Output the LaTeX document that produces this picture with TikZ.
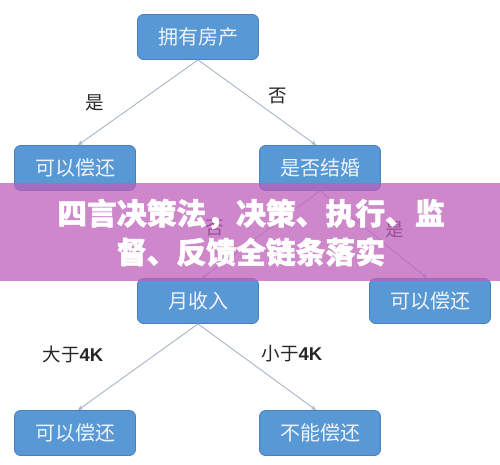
\documentclass[tikz,border=0pt]{standalone}
\usepackage{fontspec}
\usetikzlibrary{arrows.meta}
\newfontfamily\cjk{Noto Sans CJK SC}
\newfontfamily\cjkheavy[BoldFeatures={FakeBold=1.6}]{Noto Sans CJK SC}
\newfontfamily\latf{Liberation Sans}
\definecolor{nodeblue}{RGB}{88,152,212}
\definecolor{nodeborder}{RGB}{70,128,190}
\definecolor{edgecol}{RGB}{168,182,202}
\definecolor{bannercol}{RGB}{192,95,188}
\definecolor{nodetext}{RGB}{240,244,250}
\tikzset{
  decbox/.style={rectangle, rounded corners=6pt, fill=nodeblue, draw=nodeborder, line width=0.8pt,
    minimum width=121pt, minimum height=45pt, inner sep=0pt, text=nodetext,
    font=\cjk\fontsize{20}{20}\selectfont},
  edge/.style={draw=edgecol, line width=0.9pt, -{Stealth[length=5pt,width=4.5pt]}},
  lbl/.style={text=black!85, font=\cjk\fontsize{18.5}{18.5}\selectfont, inner sep=0pt},
  bannertext/.style={text=white, font=\cjkheavy\bfseries\fontsize{29.8}{38}\selectfont, align=center, inner sep=0pt}
}
\begin{document}
\begin{tikzpicture}[x=1pt,y=-1pt]
\useasboundingbox (0,0) rectangle (500,464);
\fill[white] (0,0) rectangle (500,464);
\node[decbox] (A) at (198,37) {拥有房产};
\node[decbox] (B) at (75,168) {可以偿还};
\node[decbox] (C) at (320,168) {是否结婚};
\node[decbox] (D) at (198,301) {月收入};
\node[decbox] (E) at (430,301) {可以偿还};
\node[decbox] (F) at (75,433) {可以偿还};
\node[decbox] (G) at (320,433) {不能偿还};
\draw[edge] (A.south) -- ([xshift=3pt]B.north);
\draw[edge] (A.south) -- ([xshift=-4pt]C.north);
\draw[edge] (C.south) -- ([xshift=4pt]D.north);
\draw[edge] (C.south) -- ([xshift=-3pt]E.north);
\draw[edge] (D.south) -- ([xshift=3pt]F.north);
\draw[edge] (D.south) -- ([xshift=-4pt]G.north);
\node[lbl] (l1) at (95,103) {是};
\node[lbl] (l2) at (278,96) {否};
\node[lbl] (l3) at (215,228) {否};
\node[lbl] (l4) at (395,230) {是};
\node[lbl] (l5) at (73,354) {大于{\latf\bfseries 4K}};
\node[lbl] (l6) at (292,354) {小于{\latf\bfseries 4K}};
\fill[bannercol, fill opacity=0.75] (0,183) rectangle (500,281);
\node[bannertext] (t1) at (251,214) {四言决策法，决策、执行、监};
\node[bannertext] (t2) at (251,252) {督、反馈全链条落实};
\end{tikzpicture}
\end{document}
